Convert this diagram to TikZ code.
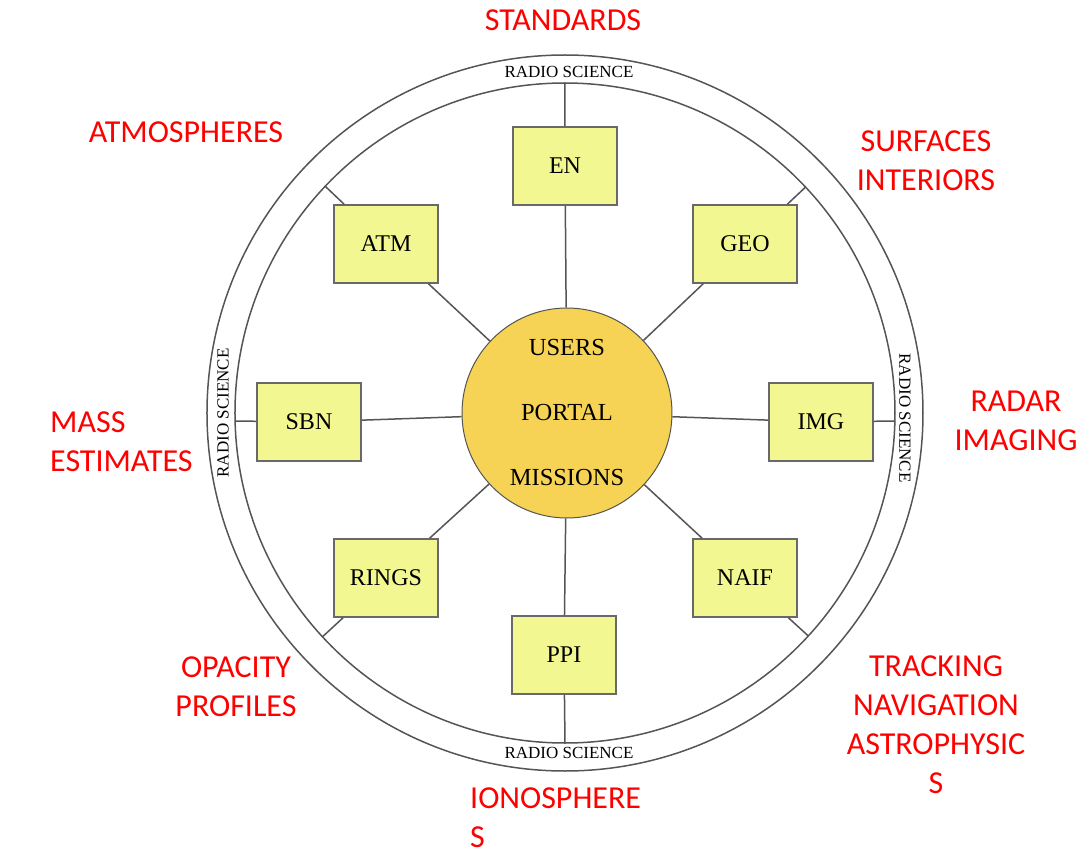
\documentclass[tikz,border=0pt]{standalone}
\usepackage{fontspec}
\setmainfont{Liberation Serif}
\newfontfamily\topicfont{Carlito}
\usepackage{tikz}
\definecolor{portalgold}{RGB}{246,211,84}
\definecolor{boxlight}{RGB}{242,247,145}
\definecolor{boxedge}{RGB}{105,105,105}
\definecolor{spokegray}{RGB}{85,85,85}
\definecolor{topicred}{RGB}{255,0,0}
\tikzset{
  nodebox/.style={rectangle, draw=boxedge, line width=1.5pt, fill=boxlight,
    minimum width=104pt, minimum height=78pt, inner sep=0pt,
    font=\fontsize{24}{28}\selectfont},
  portalnode/.style={circle, draw=spokegray, line width=1pt, fill=portalgold,
    minimum size=210pt, inner sep=0pt, align=center,
    font=\fontsize{24.5}{65}\selectfont},
  spoke/.style={draw=spokegray, line width=1.5pt},
  ring/.style={draw=spokegray, line width=1.5pt},
  ringlabel/.style={inner sep=0pt, font=\fontsize{17}{20}\selectfont},
  topic/.style={text=topicred, inner sep=0pt, align=center,
    font=\topicfont\fontsize{32}{39}\selectfont},
}

\begin{document}
\begin{tikzpicture}[x=1pt, y=1pt]
  \useasboundingbox (-565,-439) rectangle (515,413);

  % outer band
  \draw[ring] (0,0) circle[radius=330];
  \draw[ring] (0,0) circle[radius=358];
  \node[ringlabel] (rs-top) at (4,341) {RADIO SCIENCE};
  \node[ringlabel] (rs-bottom) at (4,-340) {RADIO SCIENCE};
  \node[ringlabel, rotate=90] (rs-left) at (-342,0) {RADIO SCIENCE};
  \node[ringlabel, rotate=-90] (rs-right) at (340,-5) {RADIO SCIENCE};

  % hub and nodes
  \node[portalnode] (portal) at (2,0) {USERS\\PORTAL\\MISSIONS};
  \node[nodebox] (en) at (0,247) {EN};
  \node[nodebox] (atm) at (-179,169) {ATM};
  \node[nodebox] (geo) at (180,169) {GEO};
  \node[nodebox] (sbn) at (-256,-9) {SBN};
  \node[nodebox] (img) at (256,-9) {IMG};
  \node[nodebox] (rings) at (-179,-165) {RINGS};
  \node[nodebox] (naif) at (180,-165) {NAIF};
  \node[nodebox] (ppi) at (-1,-242) {PPI};

  % where the spokes meet the inner ring
  \coordinate (en-r) at (90:330);
  \coordinate (atm-r) at (136.6:330);
  \coordinate (geo-r) at (43.2:330);
  \coordinate (sbn-r) at (-330,-8);
  \coordinate (img-r) at (330,-8);
  \coordinate (rings-r) at (222.7:330);
  \coordinate (naif-r) at (317.5:330);
  \coordinate (ppi-r) at (270:330);

  \foreach \n in {en,atm,geo,sbn,img,rings,naif,ppi}
    \draw[spoke] (portal) -- (\n) -- (\n-r);

  % science topics
  \node[topic] (standards) at (-2,393) {STANDARDS};
  \node[topic] (atmospheres) at (-379,281) {ATMOSPHERES};
  \node[topic] (surfaces) at (361,252) {SURFACES\\INTERIORS};
  \node[topic, align=left, anchor=west] (mass) at (-515,-28.5) {MASS\\ESTIMATES};
  \node[topic] (radar) at (451,-7.5) {RADAR\\IMAGING};
  \node[topic] (opacity) at (-329,-274) {OPACITY\\PROFILES};
  \node[topic] (tracking) at (371,-312) {TRACKING\\NAVIGATION\\ASTROPHYSIC\\S};
  \node[topic, align=left, anchor=west] (ionospheres) at (-95,-405) {IONOSPHERE\\S};
\end{tikzpicture}
\end{document}
